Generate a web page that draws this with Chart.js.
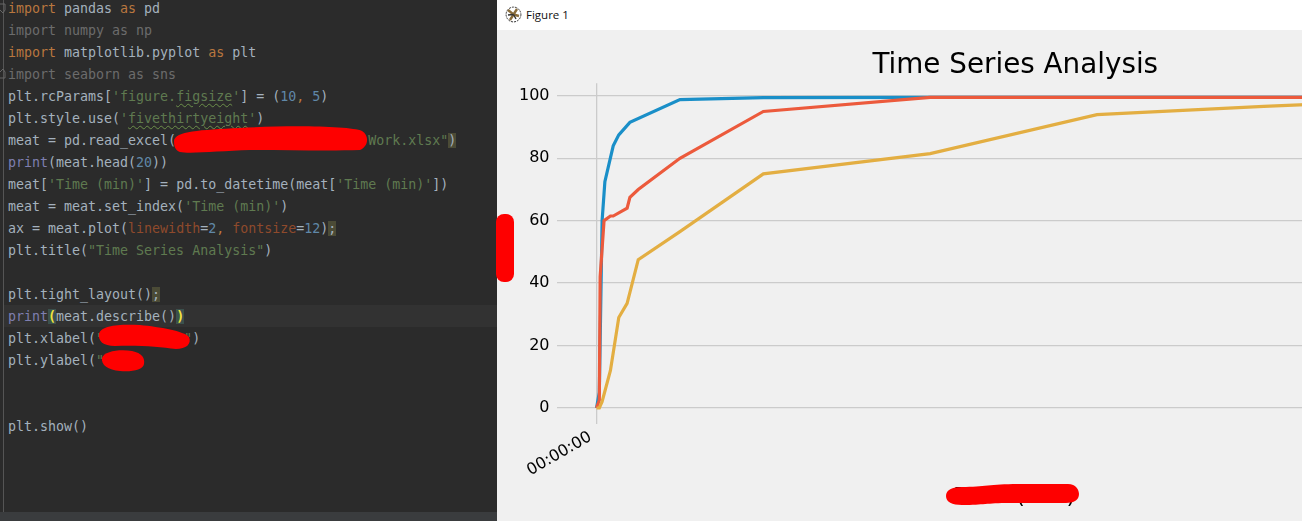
<!DOCTYPE html>
<html>
<head>
<meta charset="utf-8">
<title>Figure 1</title>
<script src="https://cdn.jsdelivr.net/npm/chart.js@4/dist/chart.umd.min.js"></script>
<style>
  html, body { margin: 0; padding: 0; width: 1302px; height: 521px; overflow: hidden; background: #2b2b2b; }
  #editor { position: absolute; left: 0; top: 0; width: 497px; height: 521px; background: #2b2b2b; overflow: hidden; }
  #gutter { position: absolute; left: 3px; top: 0; width: 1px; height: 512px; background: #555; }
  #current { position: absolute; left: 4px; top: 305px; width: 493px; height: 22px; background: #323232; }
  #status { position: absolute; left: 0; top: 512px; width: 497px; height: 9px; background: #3a3c3e; }
  #code { position: absolute; left: 8px; top: -2px; margin: 0; font: 13.3px/22px "DejaVu Sans Mono", monospace; color: #a4b1bd; white-space: pre; }
  .kw { color: #b9773f; }
  .dim { color: #6c6c6c; }
  .str { color: #5f7a50; }
  .num { color: #6088a8; }
  .arg { color: #8f4a2c; }
  .fn { color: #7f7fb0; }
  .wavy { text-decoration: underline wavy #6b8f4a 1px; text-underline-offset: 2px; }
  .semi { background: #4b4b36; }
  .match { background: #3b514d; color: #f0e43c; font-weight: bold; }
  #figure { position: absolute; left: 497px; top: 0; width: 805px; height: 521px; background: #f0f0f0; overflow: hidden; }
  #titlebar { position: absolute; left: 0; top: 0; width: 805px; height: 30px; background: #fff; }
  #figname { position: absolute; left: 29px; top: 7px; font: 11.5px/16px "Open Sans", sans-serif; color: #111; }
  #icon { position: absolute; left: 8px; top: 6px; }
  #plot { position: absolute; left: 0; top: 30px; }
  #marks { position: absolute; left: 0; top: 0; pointer-events: none; }
</style>
</head>
<body>
<div id="editor">
  <div id="gutter"></div>
  <div id="current"></div>
<pre id="code"><span class="kw">import</span> pandas <span class="kw">as</span> pd
<span class="dim">import numpy as np</span>
<span class="kw">import</span> matplotlib.pyplot <span class="kw">as</span> plt
<span class="dim">import seaborn as sns</span>
plt.rcParams[<span class="str">'figure.<span class="wavy">figsize</span>'</span>] = (<span class="num">10</span><span class="kw">,</span> <span class="num">5</span>)
plt.style.use(<span class="str">'<span class="wavy">fivethirtyeight</span>'</span>)
meat = pd.read_excel(                        <span class="str">Work.xlsx"</span><span class="semi">)</span>
<span class="fn">print</span>(meat.head(<span class="num">20</span>))
meat[<span class="str">'Time (min)'</span>] = pd.to_datetime(meat[<span class="str">'Time (min)'</span>])
meat = meat.set_index(<span class="str">'Time (min)'</span>)
ax = meat.plot(<span class="arg">linewidth</span>=<span class="num">2</span><span class="kw">,</span> <span class="arg">fontsize</span>=<span class="num">12</span>)<span class="semi">;</span>
plt.title(<span class="str">"Time Series Analysis"</span>)

plt.tight_layout()<span class="semi">;</span>
<span class="fn">print</span><span class="match">(</span>meat.describe()<span class="match">)</span>
plt.xlabel(<span class="str">"          "</span>)
plt.ylabel(<span class="str">"</span>


plt.show()</pre>
  <svg id="fold" width="12" height="90" style="position:absolute;left:0;top:0">
    <path d="M0 4H5V10L3 13L0 10" fill="none" stroke="#666"/>
    <path d="M0 72L3 69L5 72V78H0" fill="none" stroke="#666"/>
  </svg>
  <div id="status"></div>
</div>
<div id="figure">
  <div id="titlebar">
    <svg id="icon" width="17" height="17" viewBox="0 0 17 17">
      <circle cx="8.5" cy="8.5" r="7.4" fill="#fff" stroke="#333" stroke-dasharray="2 1"/>
      <path d="M8.5 8.5L3 4M8.5 8.5L12 3M8.5 8.5L14 10M8.5 8.5L5 14" stroke="#8a6d3b" stroke-width="2.4"/>
      <path d="M8.5 8.5L11 13M8.5 8.5L3 9" stroke="#333" stroke-width="1.4"/>
    </svg>
    <div id="figname">Figure 1</div>
  </div>
  <canvas id="plot" width="1037" height="491" style="width:1037px;height:491px"></canvas>
</div>
<svg id="marks" width="1302" height="521">
  <g fill="#fe0000">
    <path d="M174 141C175 131 200 130 240 128C290 125 350 126 362 131C370 136 368 147 360 150C330 151 290 150 250 150C220 151 190 154 180 152C175 150 174 146 174 141Z"/>
    <path d="M99 334C101 325 120 324 140 325C160 327 184 331 189 337C192 344 186 349 176 349C160 347 140 345 115 346C103 346 98 341 99 334Z"/>
    <path d="M102 358C104 351 120 349 132 351C142 353 145 358 144 364C143 370 132 372 120 371C108 370 101 365 102 358Z"/>
    <rect x="496" y="214" width="18" height="68" rx="8"/>
    <path d="M946 496C946 490 952 487 962 487C985 487 990 484 1020 484L1068 484C1076 484 1079 490 1079 494C1079 500 1074 503 1066 503L1010 503C985 503 985 505 962 505C952 505 946 502 946 496Z"/>
  </g>
</svg>

<script>
// =================== Chart data ===================

const chartTitle = 'Time Series Analysis';
const xAxisTitle = 'Time (min)';
const xTickLabel = '00:00:00';
const xTicks = [0];
const yTicks = [0, 20, 40, 60, 80, 100];

// time in minutes, percent on y
const blueTimes = [0, 1, 2, 3, 6, 8, 12, 30, 60, 120, 180, 240, 300];
const blueValues = [0, 5, 60, 72.5, 84, 87.5, 91.5, 98.8, 99.4, 99.5, 99.5, 99.5, 99.5];

const redTimes = [0, 1, 1.3, 2.7, 5, 6, 11, 12, 15, 30, 60, 120, 180, 240, 300];
const redValues = [0, 2.5, 42, 60, 61.5, 61.5, 64, 67.5, 70, 80, 95, 99.5, 99.5, 99.5, 99.5];

const yellowTimes = [0, 1, 2, 5, 8, 11, 15, 30, 60, 120, 180, 240, 300];
const yellowValues = [0, 0, 2, 12, 29, 33.5, 47.5, 56.5, 75, 81.5, 94, 96.6, 98.9];

// =================== Draw ===================

function toPoints(times, values) {
  return times.map((t, i) => ({ x: t, y: values[i] }));
}

// lower order is drawn last, so yellow ends up on top like in matplotlib
function series(label, times, values, color, order) {
  return {
    label: label,
    data: toPoints(times, values),
    borderColor: color,
    borderWidth: 3.2,
    pointRadius: 0,
    tension: 0,
    order: order
  };
}

new Chart(document.getElementById('plot'), {
  type: 'line',
  data: {
    datasets: [
      series('Series 1', blueTimes, blueValues, '#1a8fc8', 3),
      series('Series 2', redTimes, redValues, '#ec5a3c', 2),
      series('Series 3', yellowTimes, yellowValues, '#e3ae42', 1)
    ]
  },
  options: {
    responsive: false,
    animation: false,
    layout: { padding: { left: 0, right: 60, top: 0, bottom: 0 } },
    plugins: {
      legend: { display: false },
      tooltip: { enabled: false },
      title: {
        display: true,
        fullSize: false,
        text: chartTitle,
        color: '#000',
        font: { family: '"DejaVu Sans"', size: 27.8, weight: 'normal' },
        padding: { top: 19, bottom: 1 }
      }
    },
    scales: {
      x: {
        type: 'linear',
        min: -14.4,
        max: 315.6,
        afterBuildTicks: (scale) => { scale.ticks = xTicks.map(v => ({ value: v })); },
        afterFit: (scale) => { scale.height = 97.4; },
        border: { display: false },
        grid: { color: '#cbcbcb', lineWidth: 1.3, drawTicks: false },
        ticks: {
          color: '#000',
          font: { family: '"DejaVu Sans"', size: 16 },
          minRotation: 30,
          maxRotation: 30,
          padding: 4,
          labelOffset: -6,
          callback: () => xTickLabel
        },
        title: {
          display: true,
          text: xAxisTitle,
          color: '#000',
          font: { family: '"DejaVu Sans"', size: 22 },
          padding: { top: 0, bottom: 10.5 }
        }
      },
      y: {
        min: -5,
        max: 104,
        afterBuildTicks: (scale) => { scale.ticks = yTicks.map(v => ({ value: v })); },
        afterFit: (scale) => { scale.width = 59.5; },
        border: { display: false },
        grid: { color: '#cbcbcb', lineWidth: 1.3, drawTicks: false },
        ticks: {
          color: '#000',
          font: { family: '"DejaVu Sans"', size: 16 },
          padding: 7
        }
      }
    }
  }
});
</script>
</body>
</html>
